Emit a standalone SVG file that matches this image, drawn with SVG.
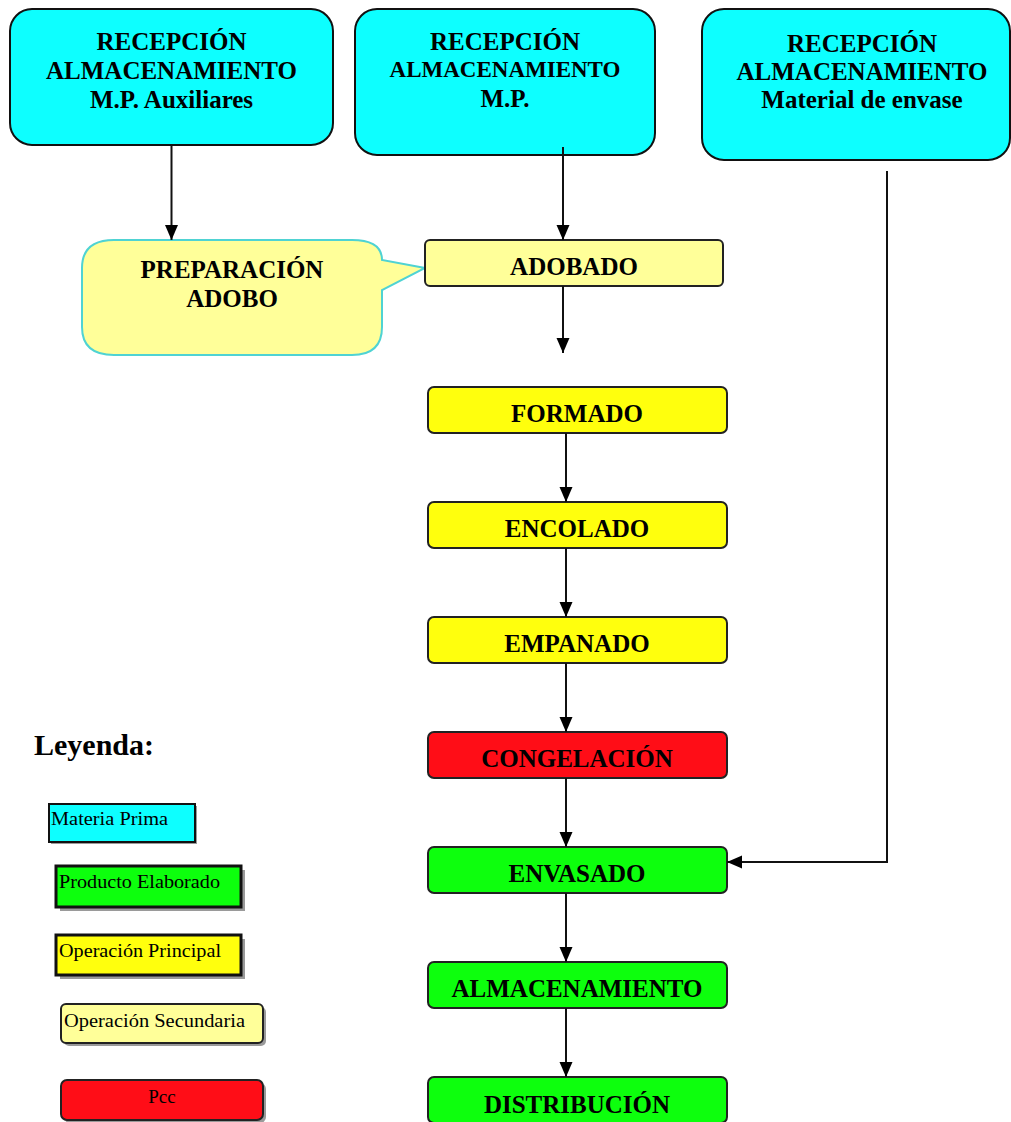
<svg xmlns="http://www.w3.org/2000/svg" width="1011" height="1122" viewBox="0 0 1011 1122">
  <style>
    .bold { font-family: "Liberation Serif", "Times New Roman", serif; font-weight: bold; font-size: 25px; fill: #000; text-anchor: middle; }
    .leg { font-family: "Liberation Serif", "Times New Roman", serif; font-size: 19px; fill: #000; }
    .raw { fill: #0DFFFF; stroke: #111; stroke-width: 2; }
    .op { fill: #FFFF0D; stroke: #222; stroke-width: 2; }
    .sec { fill: #FFFF99; stroke: #222; stroke-width: 2; }
    .pcc { fill: #FF0D17; stroke: #222; stroke-width: 2; }
    .prod { fill: #0DFF0D; stroke: #222; stroke-width: 2; }
    .shadow { fill: #9a9a9a; }
    .wire { fill: none; stroke: #111; stroke-width: 2; }
  </style>
  <defs>
    <marker id="arrow" markerUnits="userSpaceOnUse" markerWidth="16" markerHeight="16" viewBox="0 0 16 16" refX="15" refY="8" orient="auto">
      <path d="M0,1.5 L15,8 L0,14.5 Z" fill="#000"/>
    </marker>
  </defs>

  <rect width="1011" height="1122" fill="#fff"/>

  <!-- raw material reception boxes -->
  <g id="rec-aux">
    <rect class="raw" x="10" y="9" width="323" height="136" rx="22"/>
    <text class="bold" x="171.5" y="50">RECEPCIÓN</text>
    <text class="bold" x="171.5" y="79">ALMACENAMIENTO</text>
    <text class="bold" x="171.5" y="108">M.P. Auxiliares</text>
  </g>
  <g id="rec-mp">
    <rect class="raw" x="355" y="9" width="300" height="146" rx="22"/>
    <text class="bold" x="505" y="50">RECEPCIÓN</text>
    <text class="bold" x="505" y="77" style="font-size:23px">ALMACENAMIENTO</text>
    <text class="bold" x="505" y="107">M.P.</text>
  </g>
  <g id="rec-envase">
    <rect class="raw" x="702" y="9" width="308" height="151" rx="22"/>
    <text class="bold" x="862" y="52">RECEPCIÓN</text>
    <text class="bold" x="862" y="80">ALMACENAMIENTO</text>
    <text class="bold" x="862" y="108">Material de envase</text>
  </g>

  <!-- secondary operation callout -->
  <g id="preparacion-adobo">
    <path d="M114,240 H352 Q382,240 382,260 L425,268 L382,290 V327 Q382,355 352,355 H114 Q82,355 82,327 V268 Q82,240 114,240 Z" fill="#FFFF99" stroke="#4FD3D3" stroke-width="2"/>
    <text class="bold" x="232" y="278">PREPARACIÓN</text>
    <text class="bold" x="232" y="307">ADOBO</text>
  </g>

  <!-- process steps -->
  <g id="adobado">
    <rect class="sec" x="425" y="240" width="298" height="46" rx="5"/>
    <text class="bold" x="574" y="275">ADOBADO</text>
  </g>
  <g id="formado">
    <rect class="op" x="428" y="387" width="299" height="46" rx="6"/>
    <text class="bold" x="577" y="422">FORMADO</text>
  </g>
  <g id="encolado">
    <rect class="op" x="428" y="502" width="299" height="46" rx="6"/>
    <text class="bold" x="577" y="537">ENCOLADO</text>
  </g>
  <g id="empanado">
    <rect class="op" x="428" y="617" width="299" height="46" rx="6"/>
    <text class="bold" x="577" y="652">EMPANADO</text>
  </g>
  <g id="congelacion">
    <rect class="pcc" x="428" y="732" width="299" height="46" rx="6"/>
    <text class="bold" x="577" y="767">CONGELACIÓN</text>
  </g>
  <g id="envasado">
    <rect class="prod" x="428" y="847" width="299" height="46" rx="6"/>
    <text class="bold" x="577" y="882">ENVASADO</text>
  </g>
  <g id="almacenamiento">
    <rect class="prod" x="428" y="962" width="299" height="46" rx="6"/>
    <text class="bold" x="577" y="997">ALMACENAMIENTO</text>
  </g>
  <g id="distribucion">
    <rect class="prod" x="428" y="1077" width="299" height="46" rx="6"/>
    <text class="bold" x="577" y="1113">DISTRIBUCIÓN</text>
  </g>

  <!-- connectors -->
  <g id="connectors">
    <line class="wire" x1="171.5" y1="145" x2="171.5" y2="240" marker-end="url(#arrow)"/>
    <line class="wire" x1="563" y1="147" x2="563" y2="240" marker-end="url(#arrow)"/>
    <line class="wire" x1="563" y1="286" x2="563" y2="353" marker-end="url(#arrow)"/>
    <line class="wire" x1="566" y1="433" x2="566" y2="502" marker-end="url(#arrow)"/>
    <line class="wire" x1="566" y1="548" x2="566" y2="617" marker-end="url(#arrow)"/>
    <line class="wire" x1="566" y1="663" x2="566" y2="732" marker-end="url(#arrow)"/>
    <line class="wire" x1="566" y1="778" x2="566" y2="847" marker-end="url(#arrow)"/>
    <line class="wire" x1="566" y1="893" x2="566" y2="962" marker-end="url(#arrow)"/>
    <line class="wire" x1="566" y1="1008" x2="566" y2="1077" marker-end="url(#arrow)"/>
    <polyline class="wire" points="887,171 887,862 727,862" marker-end="url(#arrow)"/>
  </g>

  <!-- legend -->
  <g id="legend">
    <text x="34" y="755" style="font-family:'Liberation Serif','Times New Roman',serif;font-weight:bold;font-size:30px">Leyenda:</text>

    <g id="leg-materia-prima">
      <rect class="shadow" x="51" y="806" width="146" height="38"/>
      <rect x="49" y="804" width="146" height="38" fill="#0DFFFF" stroke="#111" stroke-width="2"/>
      <text class="leg" x="51" y="825" textLength="117" lengthAdjust="spacingAndGlyphs">Materia Prima</text>
    </g>
    <g id="leg-producto">
      <rect class="shadow" x="60" y="870" width="185" height="41"/>
      <rect x="56" y="866" width="185" height="41" fill="#0DFF0D" stroke="#111" stroke-width="3"/>
      <text class="leg" x="59" y="888" textLength="161" lengthAdjust="spacingAndGlyphs">Producto Elaborado</text>
    </g>
    <g id="leg-principal">
      <rect class="shadow" x="60" y="939" width="185" height="40"/>
      <rect x="56" y="935" width="185" height="40" fill="#FFFF0D" stroke="#111" stroke-width="3"/>
      <text class="leg" x="59" y="957" textLength="162" lengthAdjust="spacingAndGlyphs">Operación Principal</text>
    </g>
    <g id="leg-secundaria">
      <rect class="shadow" x="64" y="1007" width="202" height="39" rx="5"/>
      <rect x="61" y="1004" width="202" height="39" rx="5" fill="#FFFF99" stroke="#222" stroke-width="2"/>
      <text class="leg" x="64" y="1027" textLength="181" lengthAdjust="spacingAndGlyphs">Operación Secundaria</text>
    </g>
    <g id="leg-pcc">
      <rect class="shadow" x="64" y="1083" width="202" height="40" rx="6"/>
      <rect x="61" y="1080" width="202" height="40" rx="6" fill="#FF0D17" stroke="#222" stroke-width="2"/>
      <text class="leg" x="162" y="1103" text-anchor="middle">Pcc</text>
    </g>
  </g>
</svg>
